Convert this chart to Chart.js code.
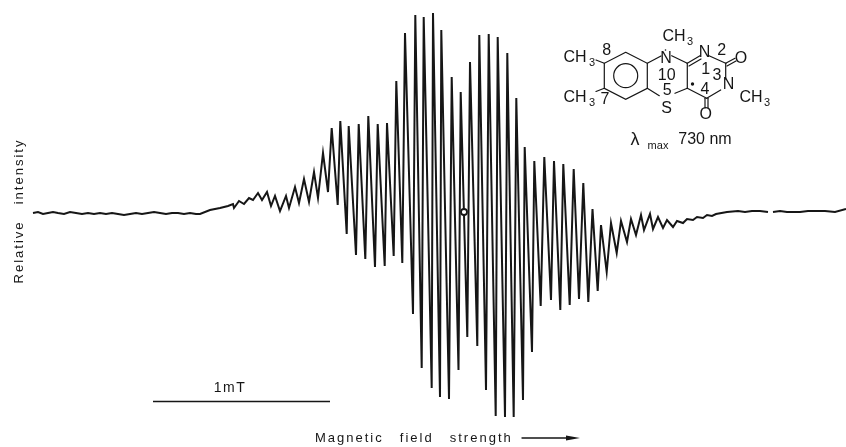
<!DOCTYPE html>
<html><head><meta charset="utf-8">
<style>html,body{margin:0;padding:0;background:#fff}#w{position:absolute;left:0;top:0;width:846px;height:447px}</style>
<script src="https://cdn.jsdelivr.net/npm/chart.js@4"></script>
</head><body><div id="w"><canvas id="c"></canvas></div>
<script>
const fieldPosition=[33,38,43,48,53,58,64,70,76,82,88,94,100,106,112,118,124,130,136,142,148,154,160,166,172,178,184,190,196,200,
210,220,228,233,234,239,244,249,253,258,262,267,271,275,280,286,289,295,299,304,309,314,318,323,328,331.7,337.7,340.3,346.7,348.7,356,358.7,365.3,368.3,375,377.7,384.7,387,393.7,396.3,402.3,405,413,415.3,421.7,423.7,431.7,433,440,441.3,449,451.7,458.5,460.7,467.3,470,477.3,479.3,486,488.7,495.7,497.7,505,507.3,513.7,516.3,523,524.7,532,534.3,540.7,544.3,551,554,560.3,563.3,569.7,573.7,579,583.3,588.3,592.5,597.7,601,606.7,611,616.7,621,627,631,636,641,644,650,653,658,663,667,673,677,683,687,693,697,703,707,712,716,727,738,745,752,760,768,770.5,773,780,787,793,800,808,815,825,835,846];
const relativeIntensity=[0,1,-1,0,1,0,-1,1,0,-1,0,-1,0,-1,0,-1,-2,-1,0,-1,0,1,0,-1,0,0,-1,0,-1,-1,
3,5,7,9,5,12,9,15,13,20,13,21,7,17,2,17,5,26,10,34,11,41,15,60,21,85,8,92,-21,87,-42,89,-46,97,-54,89,-53,90,-43,132,-50,180,-101,198,-155,196,-175,200,-184,183,-186,136,-157,121,-124,151,-133,178,-177,179,-203,176,-204,160,-204,115,-187,66,-139,52,-93,56,-87,52,-97,49,-92,44,-86,30,-89,4,-78,-12,-59,-10,-40,-8,-29,-6,-22,-2,-17,-1,-16,-4,-15,-7,-14,-8,-10,-6,-7,-4,-5,-2,-3,-1,1,2,1,2,2,1,null,1,2,1,1,1,2,2,2,1,4,1];
const scaleBarField=[153,330];
const scaleBarLevel=[-188.5,-188.5];
const centreMarkField=[464];
const centreMarkLevel=[1];
const xAxisTitle='Magnetic field strength\u00A0\u00A0\u00A0';
const yAxisTitle='Relative intensity';
const scaleLabel='1mT';

const toPts=(xs,ys)=>xs.map((x,i)=>({x,y:ys[i]}));
const FF='"Liberation Sans",Arial,sans-serif';
const INK='#161616';

const structure={id:'structure',
 beforeDraw(ch){ch.ctx.letterSpacing='2px';ch.ctx.wordSpacing='10.5px';},
 afterDraw(ch){
  const c=ch.ctx;c.save();c.letterSpacing='0px';c.wordSpacing='0px';
  c.strokeStyle=INK;c.fillStyle=INK;c.lineWidth=1.2;c.lineCap='round';
  const L=(...p)=>{c.beginPath();c.moveTo(p[0],p[1]);for(let i=2;i<p.length;i+=2)c.lineTo(p[i],p[i+1]);c.stroke();};
  const T=(s,x,y,sz=16)=>{c.font=sz+'px '+FF;c.textBaseline='middle';c.textAlign='center';c.fillText(s,x,y);};
  L(625.7,52.3,647.3,63.3,647.3,88.3,625.7,99.3,604.3,88.3,604.3,63.3,625.7,52.3);
  c.beginPath();c.arc(625.7,75.7,12,0,7);c.stroke();
  L(596,60,604.3,63.3);L(596,91.5,604.3,88.3);
  L(647.3,63.3,661,56);L(671.7,55.7,687.3,63.3);
  L(687.3,63.3,700,55.7);L(689,66,701,59);
  L(709,55.7,725.7,63.3);L(725.7,63.3,735,58.3);L(727,66,736,61);
  L(725.7,63.3,725.7,79);L(720.7,90,706.7,98.3);L(687.3,88.3,706.7,98.3);
  L(687.3,63.3,687.3,88.3);L(647.3,88.3,659.3,95.7);L(675,93.3,687.3,88.3);
  L(705,98.3,705,108);L(708,98.3,708,108);
  c.beginPath();c.arc(692.5,84,1.7,0,7);c.fill();
  c.beginPath();c.arc(665.5,50,.8,0,7);c.fill();
  T('CH',575,58);T('3',592,63,11);
  T('CH',575,98);T('3',592,103,11);
  T('8',606.7,51);T('7',605,100);
  T('N',666,59);T('CH',674,37);T('3',690,42,11);T('10',666.7,76);
  T('N',704.5,53);T('2',721.7,51);T('O',741,58.5);T('1',705.7,70);T('3',717,76);
  T('N',728.5,85);T('4',705,90);T('O',705.7,115);T('5',667.3,91);T('S',666.7,108.5);
  T('CH',751,98);T('3',767,103,11);
  T('\u03BB',635,140,18);T('max',658,146,11);
  T('730 nm',705,140,16);
  c.letterSpacing='1.5px';T(scaleLabel,230,388,14);c.letterSpacing='0px';
  // field direction arrow
  c.lineWidth=1.3;L(522,438,570,438);
  c.beginPath();c.moveTo(566,435.5);c.lineTo(580,438);c.lineTo(566,440.5);c.closePath();c.fill();
  c.restore();
 }};

new Chart(document.getElementById('c'),{
 type:'line',
 data:{datasets:[
  {label:'ESR spectrum',data:toPts(fieldPosition,relativeIntensity),borderColor:INK,borderWidth:2,pointRadius:0,tension:0,spanGaps:false,clip:false,order:2},
  {label:'1 mT scale',data:toPts(scaleBarField,scaleBarLevel),borderColor:INK,borderWidth:1.5,pointRadius:0,tension:0,clip:false,order:1},
  {label:'g marker',data:toPts(centreMarkField,centreMarkLevel),showLine:false,pointRadius:3,pointBorderWidth:1.8,pointBackgroundColor:'#fff',pointBorderColor:INK,clip:false,order:0}
 ]},
 options:{responsive:true,maintainAspectRatio:false,animation:false,
  layout:{padding:0,autoPadding:false},
  plugins:{legend:{display:false},tooltip:{enabled:false}},
  scales:{
   x:{type:'linear',min:30,max:846,grid:{display:false},border:{display:false},ticks:{display:false},
      title:{display:true,text:xAxisTitle,color:INK,font:{family:FF,size:13},padding:{top:6,bottom:1}},
      afterFit(s){s.height=25;}},
   y:{type:'linear',min:-209,max:213,grid:{display:false},border:{display:false},ticks:{display:false},
      title:{display:true,text:yAxisTitle,color:INK,font:{family:FF,size:13},padding:{top:12,bottom:0}},
      afterFit(s){s.width=30;}}
  }},
 plugins:[structure]
});
</script></body></html>
